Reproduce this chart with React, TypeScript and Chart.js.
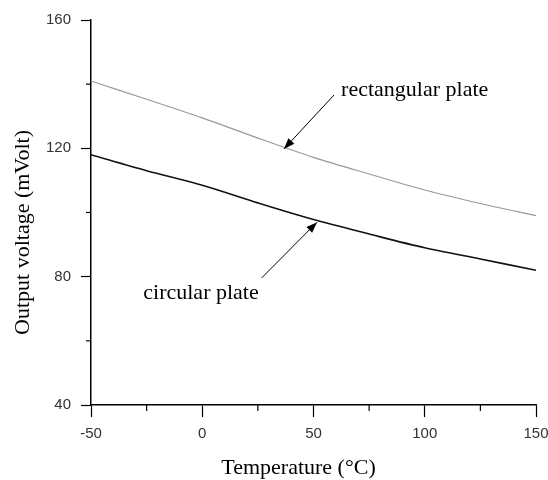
import React, { useEffect, useRef } from "react";
import { Chart, registerables } from "chart.js";

Chart.register(...registerables);

// Data
const temperatures = [-50, -25, 0, 25, 50, 75, 100, 125, 150];
const rectangularPlate = [141, 135.3, 129.5, 123.2, 117.2, 112, 107, 102.8, 99];
const circularPlate = [118, 113, 108.5, 103, 97.8, 93.3, 89, 85.5, 82];
const xTickLabels = [-50, 0, 50, 100, 150];
const yTickLabels = [40, 80, 120, 160];
const xMinorTicks = [-25, 25, 75, 125];
const yMinorTicks = [60, 100, 140];

const xTitle = "Temperature (°C)";
const yTitle = "Output voltage (mVolt)";

// Annotation anchors (data units)
const annotations = [
  { text: "rectangular plate", tx: 62.4, ty: 138.2, from: [59.2, 136.6], to: [36.7, 119.8] },
  { text: "circular plate", tx: -26.5, ty: 74.9, from: [26.7, 79.6], to: [51.6, 97.0] },
];

const SERIF = "'Liberation Serif', 'Times New Roman', serif";
const SANS = "'Liberation Sans', Arial, sans-serif";

const extrasPlugin = {
  id: "extras",
  afterDraw(chart: any) {
    const ctx = chart.ctx;
    const xs = chart.scales.x;
    const ys = chart.scales.y;
    const area = chart.chartArea;
    ctx.save();
    // minor ticks
    ctx.strokeStyle = "#000";
    ctx.lineWidth = 1.2;
    xMinorTicks.forEach((v) => {
      const px = xs.getPixelForValue(v);
      ctx.beginPath();
      ctx.moveTo(px, area.bottom);
      ctx.lineTo(px, area.bottom + 6);
      ctx.stroke();
    });
    yMinorTicks.forEach((v) => {
      const py = ys.getPixelForValue(v);
      ctx.beginPath();
      ctx.moveTo(area.left, py);
      ctx.lineTo(area.left - 5, py);
      ctx.stroke();
    });
    // annotations
    ctx.fillStyle = "#000";
    ctx.font = `22px ${SERIF}`;
    ctx.textBaseline = "middle";
    ctx.textAlign = "left";
    annotations.forEach((a) => {
      ctx.fillText(a.text, xs.getPixelForValue(a.tx), ys.getPixelForValue(a.ty));
      const x1 = xs.getPixelForValue(a.from[0]);
      const y1 = ys.getPixelForValue(a.from[1]);
      const x2 = xs.getPixelForValue(a.to[0]);
      const y2 = ys.getPixelForValue(a.to[1]);
      ctx.lineWidth = 1;
      ctx.beginPath();
      ctx.moveTo(x1, y1);
      ctx.lineTo(x2, y2);
      ctx.stroke();
      const ang = Math.atan2(y2 - y1, x2 - x1);
      const L = 11;
      const W = 4;
      ctx.beginPath();
      ctx.moveTo(x2, y2);
      ctx.lineTo(x2 - L * Math.cos(ang) + W * Math.sin(ang), y2 - L * Math.sin(ang) - W * Math.cos(ang));
      ctx.lineTo(x2 - L * Math.cos(ang) - W * Math.sin(ang), y2 - L * Math.sin(ang) + W * Math.cos(ang));
      ctx.closePath();
      ctx.fill();
    });
    // axis titles
    ctx.textAlign = "center";
    ctx.fillText(xTitle, (area.left + area.right) / 2 - 15, 468);
    ctx.translate(23, (area.top + area.bottom) / 2 + 20);
    ctx.rotate(-Math.PI / 2);
    ctx.fillText(yTitle, 0, 0);
    ctx.restore();
  },
};

export default function App() {
  const ref = useRef<HTMLCanvasElement>(null);
  useEffect(() => {
    const chart = new Chart(ref.current!, {
      type: "line",
      data: {
        datasets: [
          {
            label: "rectangular plate",
            data: temperatures.map((t, i) => ({ x: t, y: rectangularPlate[i] })),
            borderColor: "#999999",
            borderWidth: 1.2,
            pointRadius: 0,
            tension: 0.3,
          },
          {
            label: "circular plate",
            data: temperatures.map((t, i) => ({ x: t, y: circularPlate[i] })),
            borderColor: "#111",
            borderWidth: 1.6,
            pointRadius: 0,
            tension: 0.3,
          },
        ],
      },
      options: {
        animation: false,
        responsive: false,
        layout: { padding: { top: 20, right: 12, left: 0, bottom: 0 } },
        plugins: { legend: { display: false }, tooltip: { enabled: false } },
        scales: {
          x: {
            type: "linear",
            min: -50,
            max: 150,
            afterFit: (s: any) => { s.height = 75; s.paddingLeft = 0; s.paddingRight = 0; },
            afterBuildTicks: (s: any) => { s.ticks = xTickLabels.map((v) => ({ value: v })); },
            border: { color: "#000", width: 1.5 },
            grid: { drawOnChartArea: false, drawTicks: true, tickLength: 12, tickColor: "#000", tickWidth: 1.2 },
            ticks: { color: "#333", font: { family: SANS, size: 15 }, padding: 8, maxRotation: 0 },
          },
          y: {
            type: "linear",
            min: 40,
            max: 160,
            afterFit: (s: any) => { s.width = 91; s.paddingTop = 0; s.paddingBottom = 0; },
            afterBuildTicks: (s: any) => { s.ticks = yTickLabels.map((v) => ({ value: v })); },
            border: { color: "#000", width: 1.5 },
            grid: { drawOnChartArea: false, drawTicks: true, tickLength: 10, tickColor: "#000", tickWidth: 1.2 },
            ticks: { color: "#333", font: { family: SANS, size: 15 }, padding: 10 },
          },
        },
      },
      plugins: [extrasPlugin],
    });
    return () => chart.destroy();
  }, []);
  return (
    <div style={{ position: "fixed", left: 0, top: 0, width: 548, height: 480, background: "#fff" }}>
      <canvas ref={ref} width={548} height={480} />
    </div>
  );
}
